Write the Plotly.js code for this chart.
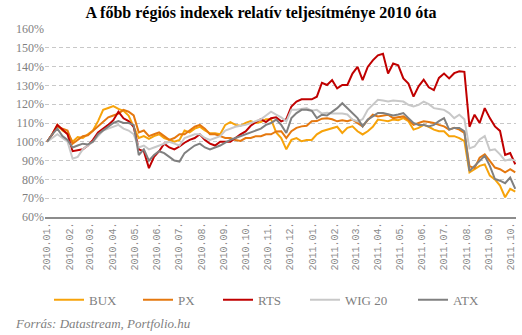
<!DOCTYPE html>
<html>
<head>
<meta charset="utf-8">
<script src="https://cdn.plot.ly/plotly-3.0.1.min.js"></script>
<style>html,body{margin:0;padding:0;background:#fff;}#chart{width:522px;height:335px;}</style>
</head>
<body>
<div id="chart"></div>
<script>
const dates = [
 '2010-01-01','2010-01-08','2010-01-15','2010-01-22','2010-01-29',
 '2010-02-05','2010-02-12','2010-02-19','2010-02-26',
 '2010-03-05','2010-03-12','2010-03-19','2010-03-26',
 '2010-04-02','2010-04-09','2010-04-16','2010-04-23','2010-04-30',
 '2010-05-07','2010-05-14','2010-05-21','2010-05-28',
 '2010-06-04','2010-06-11','2010-06-18','2010-06-25',
 '2010-07-02','2010-07-09','2010-07-16','2010-07-23','2010-07-30',
 '2010-08-06','2010-08-13','2010-08-20','2010-08-27',
 '2010-09-03','2010-09-10','2010-09-17','2010-09-24',
 '2010-10-01','2010-10-08','2010-10-15','2010-10-22','2010-10-29',
 '2010-11-05','2010-11-12','2010-11-19','2010-11-26',
 '2010-12-03','2010-12-10','2010-12-17','2010-12-24','2010-12-31',
 '2011-01-07','2011-01-14','2011-01-21','2011-01-28',
 '2011-02-04','2011-02-11','2011-02-18','2011-02-25',
 '2011-03-04','2011-03-11','2011-03-18','2011-03-25',
 '2011-04-01','2011-04-08','2011-04-15','2011-04-22','2011-04-29',
 '2011-05-06','2011-05-13','2011-05-20','2011-05-27',
 '2011-06-03','2011-06-10','2011-06-17','2011-06-24',
 '2011-07-01','2011-07-08','2011-07-15','2011-07-22','2011-07-29',
 '2011-08-05','2011-08-12','2011-08-19','2011-08-26',
 '2011-09-02','2011-09-09','2011-09-16','2011-09-23','2011-09-30',
 '2011-10-07'
];

const seriesNames = ['BUX', 'PX', 'RTS', 'WIG 20', 'ATX'];

const bux = [
 100,104,109,106,104.5, 100,102.5,102,104, 106,111,117,118, 119,117.5,116.5,114,108,
 102,103,101.5,103, 104,102,101,100, 101,106,105,107,108, 106,104.5,104.5,104,
 109,110.5,109,108.5, 110,111,110,110.5,112, 112,105,102,96, 101,102,100.3,101,101,
 104,105.6,106.5,107.4, 108,104.7,107.4,108.2, 105.6,103.9,105.6,108,
 111.8,111.4,111,111.8,111.5, 112.6,111,106.5,107.4, 109,108,106.5,105.6,
 105.6,103,103,102,100.4, 83.7,85.4,87.2,88, 82,80,76.7,70.5,75, 73.5
];
const px = [
 100,104,108,107,106, 99,101,103,103.5, 106,108,111,113, 114,115,117,116,114,
 105,106,103,104, 105,103,101,102, 104,104,106,108,109, 107,104,104,103,
 102,102,101,100.5, 102,102,103,103,104, 104,105.5,105.6,102, 105.6,107.4,108.2,108.5,110.9,
 111,112.3,112.5,112, 110.9,111.5,110.9,111.8, 110,108.2,111.5,114.4,
 113.5,113.8,114.4,112.6,113, 113.5,111.8,109,110, 110.9,110.5,110,109,
 108.2,106.5,107.4,106.5,104.7, 87,86,91.6,93.3, 89.8,86.3,85.4,83.7,85.4, 83.7
];
const rts = [
 100,104,109,106.5,104, 95,95.5,96,98, 101,105,107,109, 111.5,116,112.5,111,108,
 96,95,86,92, 95,99,97,96, 97.5,99.5,101,102,104, 101,99,98,100,
 100,100,102,104, 105.5,108.5,110.5,112,110.5, 112.5,113,110.9,112, 118.8,121.4,122.6,122.6,122.6,
 124,131.4,130.2,132.8, 128.4,130.2,130.2,136.3, 139.8,132.8,139.8,143.3,
 146,146.8,136.3,141.6,140.7, 133.7,131,124,129.5, 133,129,127.5,134,
 136.3,133.7,136.5,137.5,137.2, 108,114.4,110,117.9, 112.6,108.2,105.8,93,94, 88
];
const wig20 = [
 100,102,104,102,100, 91,92,96,98, 100,103,106,107, 108,109,107,106,104,
 97,98,96,97, 98,99,100,99, 98,102,103,104,104, 102,101,102,103,
 106,107,108,108.5, 109,110,111,112,114, 116,114.4,113,110.9, 117,117,117.5,118,116.5,
 117,115,115.5,115, 115,115,114.5,111.8, 110.9,112,117,119.6,
 122.3,122,121.5,122,121.8, 121.4,119.6,118.8,119.6, 121.4,120,117.9,117.5,
 117,115.3,112.6,114.4,112, 96.5,97.5,101.2,103, 95.5,96,93.3,90,90.7, 90
];
const atx = [
 100,104,107,103,101, 97,98,99,98.6, 100,104,106,108, 110,111,110,110,109,
 93,96,90,93, 95,94,92,90, 89.5,94,96,98,99, 97,96,97,98,
 99.5,101,102,103, 104,105,106,107,109, 110,111.8,109,104.7, 112.6,115.3,117,117,116.5,
 112.6,114.4,114,116, 117.9,120.5,117.9,115.3, 112.6,108.2,111.8,113.5,
 115.3,115.3,114.5,114,114.5, 115.3,112.6,110,109, 109,108.2,109,111,
 112.6,106.5,107.4,107.4,105.6, 84.5,87.2,89.8,92.5, 87.2,80.2,79.3,78,81, 75
];

const seriesValues = [bux, px, rts, wig20, atx];
const seriesColors = ['#F7A30A', '#E5780F', '#C00000', '#C8C8C8', '#808080'];
const legendWidths = [44, 35, 42, 63, 41];

const traces = seriesNames.map((name, k) => ({
  type: 'scatter',
  mode: 'lines',
  name: name,
  x: dates,
  y: seriesValues[k],
  line: {color: seriesColors[k], width: 2},
  legendwidth: legendWidths[k],
  hoverinfo: 'skip'
}));

const layout = {
  width: 522,
  height: 335,
  margin: {l: 45, r: 6, t: 29, b: 118},
  paper_bgcolor: '#ffffff',
  plot_bgcolor: '#ffffff',
  title: {
    text: '<b>A főbb régiós indexek relatív teljesítménye 2010 óta</b>',
    font: {family: 'Liberation Serif', size: 16, color: '#000000'},
    x: 0.5, xanchor: 'center', xref: 'container',
    y: 1 - 12 / 335, yanchor: 'middle', yref: 'container'
  },
  xaxis: {
    type: 'date',
    range: ['2009-12-29', '2011-10-08'],
    tickmode: 'linear',
    tick0: '2010-01-01',
    dtick: 'M1',
    tickformat: '%Y.%m.',
    tickangle: -90,
    tickfont: {family: 'Liberation Mono', size: 10, color: '#8c8c8c'},
    showgrid: false,
    zeroline: false,
    showline: true,
    linecolor: '#8c8c8c',
    linewidth: 1.5,
    ticks: ''
  },
  yaxis: {
    range: [60, 160],
    tick0: 0,
    dtick: 10,
    ticksuffix: '%',
    tickfont: {family: 'Liberation Serif', size: 12, color: '#7f7f7f'},
    showgrid: true,
    gridcolor: '#c8c8c8',
    griddash: '4px,3px',
    gridwidth: 1,
    zeroline: false,
    showline: false,
    ticks: ''
  },
  showlegend: true,
  legend: {
    orientation: 'h',
    x: 0.0085, xanchor: 'left',
    y: -0.44, yanchor: 'middle',
    font: {family: 'Liberation Serif', size: 13, color: '#7f7f7f'},
    traceorder: 'normal',
    bgcolor: 'rgba(0,0,0,0)'
  },
  annotations: [{
    text: '<i>Forrás: Datastream, Portfolio.hu</i>',
    xref: 'paper', yref: 'paper',
    x: -0.068, xanchor: 'left',
    y: -0.564, yanchor: 'middle',
    showarrow: false,
    font: {family: 'Liberation Serif', size: 13, color: '#7f7f7f'}
  }]
};

Plotly.newPlot('chart', traces, layout, {displayModeBar: false, staticPlot: true});
</script>
</body>
</html>
